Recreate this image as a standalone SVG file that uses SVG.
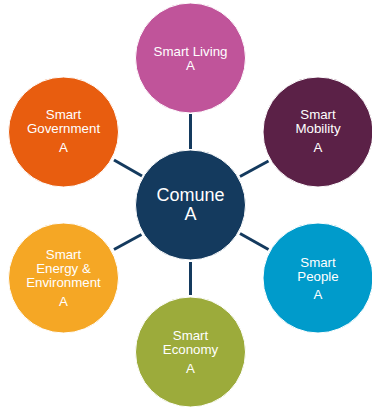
<svg xmlns="http://www.w3.org/2000/svg" width="372" height="410" viewBox="0 0 372 410">
<style>
.c{stroke:#ffffff;stroke-width:1}
.t{font-family:"Liberation Sans",Arial,sans-serif;font-size:13.3px;fill:#ffffff;text-anchor:middle}
.big{font-size:18px}
.ln{stroke:#143A5E;stroke-width:3;fill:none}
</style>
<rect width="372" height="410" fill="#ffffff"/>
<g id="connectors">
<line class="ln" x1="190.5" y1="114" x2="190.5" y2="149"/>
<line class="ln" x1="190.5" y1="262" x2="190.5" y2="295"/>
<line class="ln" x1="114" y1="160" x2="142" y2="176"/>
<line class="ln" x1="240" y1="176.5" x2="268.5" y2="161"/>
<line class="ln" x1="114" y1="249.5" x2="141.5" y2="234.5"/>
<line class="ln" x1="240" y1="233.5" x2="268.5" y2="249.5"/>
</g>
<g id="center">
<circle class="c" cx="190.5" cy="205" r="55" fill="#143A5E"/>
<text class="t big" x="190.5" y="201">Comune</text>
<text class="t big" x="190.5" y="220">A</text>
</g>
<g id="living">
<circle class="c" cx="190.5" cy="58" r="55" fill="#C0549A"/>
<text class="t" x="190.5" y="56">Smart Living</text>
<text class="t" x="190.5" y="69.5">A</text>
</g>
<g id="government">
<circle class="c" cx="63.5" cy="132" r="55" fill="#E85D0F"/>
<text class="t" x="63.5" y="119.3">Smart</text>
<text class="t" x="63.5" y="133.3">Government</text>
<text class="t" x="63.5" y="151.7">A</text>
</g>
<g id="mobility">
<circle class="c" cx="318" cy="132" r="55" fill="#5B2147"/>
<text class="t" x="318" y="119.3">Smart</text>
<text class="t" x="318" y="133.3">Mobility</text>
<text class="t" x="318" y="151.7">A</text>
</g>
<g id="energy">
<circle class="c" cx="63.5" cy="278" r="55" fill="#F5A725"/>
<text class="t" x="63.5" y="259.3">Smart</text>
<text class="t" x="63.5" y="273.3">Energy &amp;</text>
<text class="t" x="63.5" y="287.3">Environment</text>
<text class="t" x="63.5" y="306">A</text>
</g>
<g id="people">
<circle class="c" cx="318" cy="278" r="55" fill="#009BCB"/>
<text class="t" x="318" y="266.5">Smart</text>
<text class="t" x="318" y="280.5">People</text>
<text class="t" x="318" y="299">A</text>
</g>
<g id="economy">
<circle class="c" cx="190.5" cy="352" r="55" fill="#9CAB3B"/>
<text class="t" x="190.5" y="340">Smart</text>
<text class="t" x="190.5" y="354">Economy</text>
<text class="t" x="190.5" y="372.7">A</text>
</g>
</svg>
